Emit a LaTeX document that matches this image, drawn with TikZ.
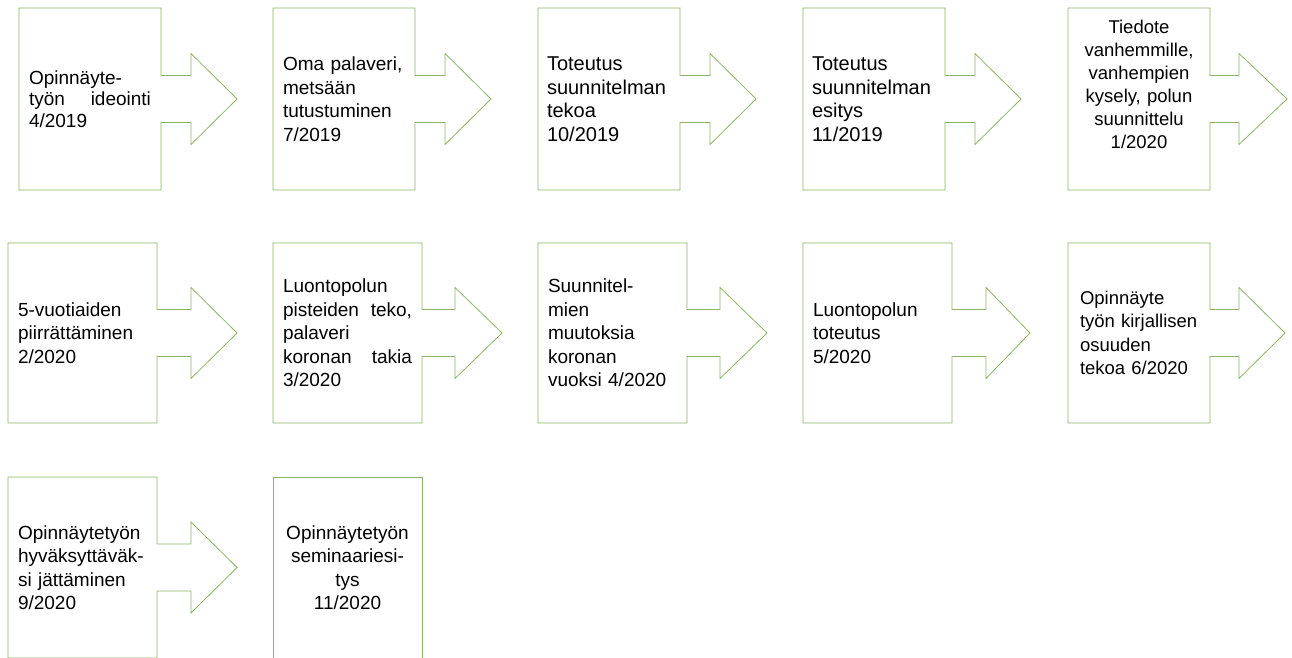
\documentclass[tikz,border=0pt]{standalone}
\usepackage{fontspec}
\setmainfont{Liberation Sans}
\setlength{\parindent}{0pt}
\definecolor{phasegreen}{RGB}{140,180,100}
\tikzset{
  phase/.style={anchor=north west, inner xsep=10pt, inner ysep=0pt, outer sep=0pt,
    text width=122pt, minimum height=182pt, align=left, font={\fontsize{19}{23.5}\selectfont}},
  wide/.style={text width=129pt, minimum height=180pt},
  outline/.style={draw=phasegreen, line width=0.8pt, line join=miter}
}
\begin{document}
\begin{tikzpicture}[x=1pt,y=1pt]
  \useasboundingbox (0,0) rectangle (1292,657);
  \node[phase, font={\fontsize{19}{21.5}\selectfont}] (b1) at (19,649) {Opinnäyte-\\työn\hfill ideointi\\4/2019};
  \node[phase] (b2) at (273,649) {Oma palaveri,\\metsään\\tutustuminen\\7/2019};
  \node[phase, inner xsep=9pt, text width=124pt, font={\fontsize{20}{23.5}\selectfont}] (b3) at (538,649) {Toteutus\\suunnitelman\\tekoa\\10/2019};
  \node[phase, inner xsep=9pt, text width=124pt, font={\fontsize{20}{23.5}\selectfont}] (b4) at (803,649) {Toteutus\\suunnitelman\\esitys\\11/2019};
  \node[phase, align=center, font={\fontsize{18.5}{23}\selectfont}] (b5) at (1068,649) {Tiedote\\vanhemmille,\\vanhempien\\kysely, polun\\suunnittelu\\1/2020\\[7pt]\mbox{}};
  \node[phase, wide] (b6) at (8,414) {5-vuotiaiden\\piirrättäminen\\2/2020};
  \node[phase, wide] (b7) at (273,414) {Luontopolun\\pisteiden\hfill teko,\\palaveri\\koronan\hfill takia\\3/2020};
  \node[phase, wide] (b8) at (538,414) {Suunnitel-\\mien\\muutoksia\\koronan\\vuoksi 4/2020};
  \node[phase, wide] (b9) at (803,414) {Luontopolun\\toteutus\\5/2020};
  \node[phase, minimum height=180pt, inner xsep=12pt, text width=118pt, font={\fontsize{18.5}{23.5}\selectfont}] (b10) at (1068,414) {Opinnäyte\\\mbox{työn kirjallisen}\\osuuden\\tekoa 6/2020};
  \node[phase, wide, minimum height=181pt] (b11) at (8,180) {Opinnäytetyön\\hyväksyttäväk-\\si jättäminen\\9/2020};
  \node[phase, wide, minimum height=181pt, align=center] (b12) at (273,180) {Opinnäytetyön\\seminaariesi-\\tys\\11/2020};
  \foreach \b/\s/\t in {b1/30/76,b2/30/76,b3/30/76,b4/30/76,b5/29/77,b6/34/80,b7/33/80,b8/33/80,b9/34/78,b10/29/75,b11/34/80}
    \draw[outline] (\b.north west) -- (\b.north east) -- ([yshift=23.5pt]\b.east) -- ++(\s,0) -- ++(0,22)
      -- ([xshift=\t pt]\b.east) -- ++({\s-\t},-45.5) -- ++(0,22) -- ([yshift=-23.5pt]\b.east)
      -- (\b.south east) -- (\b.south west) -- cycle;
  \draw[outline] (b12.north west) rectangle (b12.south east);
\end{tikzpicture}
\end{document}
